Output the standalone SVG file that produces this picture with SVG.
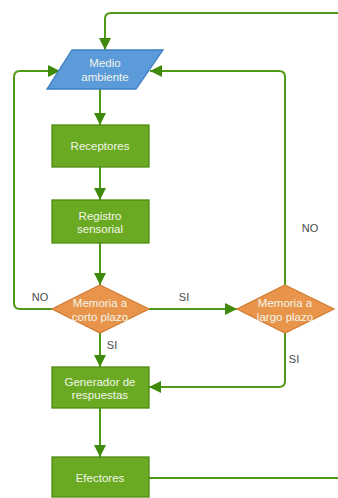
<svg xmlns="http://www.w3.org/2000/svg" width="338" height="498" viewBox="0 0 338 498">
<style>
.box{fill:#6aaa22;stroke:#4e8c12;stroke-width:1.3}
.io{fill:#5b9bd9;stroke:#3d7fc4;stroke-width:1.3}
.dec{fill:#e8944a;stroke:#d27d34;stroke-width:1.3}
.t{font-family:"Liberation Sans",Arial,sans-serif;font-size:11.5px;fill:#f2f6ea;text-anchor:middle}
.lbl{font-family:"Liberation Sans",Arial,sans-serif;font-size:11px;fill:#4a4a4a;text-anchor:middle}
.c{fill:none;stroke:#4f9a14;stroke-width:2}
</style>
<defs>
<marker id="ah" viewBox="0 0 10 10" refX="10" refY="5" markerWidth="6" markerHeight="6" orient="auto" markerUnits="userSpaceOnUse">
<path d="M0,0 L10,5 L0,10 z" fill="#3f8a0a"/>
</marker>
<marker id="a" viewBox="0 0 12 12" refX="12" refY="6" markerWidth="12" markerHeight="12" orient="auto" markerUnits="userSpaceOnUse">
<path d="M0,0 L12,6 L0,12 z" fill="#3f8a0a"/>
</marker>
</defs>
<g id="connectors">
<path class="c" d="M338,13 H111 Q105,13 105,19 V50" marker-end="url(#a)"/>
<path class="c" d="M52,309 H20 Q14,309 14,303 V77 Q14,71 20,71 H60" marker-end="url(#a)"/>
<path class="c" d="M285,285 V77 Q285,71 279,71 H150" marker-end="url(#a)"/>
<path class="c" d="M100,89 V125" marker-end="url(#a)"/>
<path class="c" d="M100,167 V200" marker-end="url(#a)"/>
<path class="c" d="M100,243 V285" marker-end="url(#a)"/>
<path class="c" d="M149,309 H237" marker-end="url(#a)"/>
<path class="c" d="M100,333 V367" marker-end="url(#a)"/>
<path class="c" d="M285,333 V381 Q285,387 279,387 H149" marker-end="url(#a)"/>
<path class="c" d="M100,408 V457" marker-end="url(#a)"/>
<path class="c" d="M149,478 H338"/>
<text class="lbl" x="40" y="301">NO</text>
<text class="lbl" x="184" y="301">SI</text>
<text class="lbl" x="112" y="349">SI</text>
<text class="lbl" x="294" y="363">SI</text>
<text class="lbl" x="310" y="232">NO</text>
</g>
<g id="medio">
<polygon class="io" points="72,50 163,50 136,89 47,89"/>
<text class="t" x="105" y="67">Medio</text>
<text class="t" x="105" y="81">ambiente</text>
</g>
<g id="receptores">
<rect class="box" x="52" y="125" width="97" height="42"/>
<text class="t" x="100" y="150">Receptores</text>
</g>
<g id="registro">
<rect class="box" x="52" y="200" width="97" height="43"/>
<text class="t" x="100" y="220">Registro</text>
<text class="t" x="100" y="233">sensorial</text>
</g>
<g id="corto">
<polygon class="dec" points="100,285 149,309 100,333 52,309"/>
<text class="t" x="100" y="307">Memoria a</text>
<text class="t" x="100" y="321">corto plazo</text>
</g>
<g id="largo">
<polygon class="dec" points="285,285 334,309 285,333 237,309"/>
<text class="t" x="285" y="307">Memoria a</text>
<text class="t" x="285" y="321">largo plazo</text>
</g>
<g id="generador">
<rect class="box" x="52" y="367" width="97" height="41"/>
<text class="t" x="100" y="386">Generador de</text>
<text class="t" x="100" y="399">respuestas</text>
</g>
<g id="efectores">
<rect class="box" x="52" y="457" width="97" height="40"/>
<text class="t" x="100" y="482">Efectores</text>
</g>
</svg>
